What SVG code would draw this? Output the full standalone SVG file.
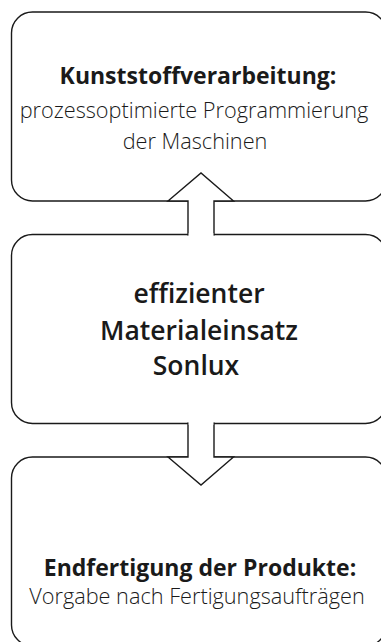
<svg xmlns="http://www.w3.org/2000/svg" width="381" height="642" viewBox="0 0 381 642">
<style>
.box{fill:#fff;stroke:#1a1a1a;stroke-width:1.4}
.arr{fill:#fff;stroke:#1a1a1a;stroke-width:1.4;stroke-linejoin:miter}
text{font-family:"Open Sans","Noto Sans",sans-serif;fill:#1a1a1a;text-anchor:middle}
.t{font-weight:700;font-size:23px}
.b{font-weight:300;font-size:21.7px}
.m{font-weight:600;font-size:26.5px}
</style>
<rect width="381" height="642" fill="#fff"/>
<g id="node-top">
<rect class="box" x="11.5" y="12" width="375" height="189" rx="21" ry="21"/>
<text class="t" x="198" y="84">Kunststoffverarbeitung:</text>
<text class="b" x="194" y="118">prozessoptimierte Programmierung</text>
<text class="b" x="195" y="149">der Maschinen</text>
</g>
<g id="node-middle">
<rect class="box" x="11.5" y="234.5" width="375" height="189" rx="21" ry="21"/>
<text class="m" x="199" y="303">effizienter</text>
<text class="m" x="199" y="340">Materialeinsatz</text>
<text class="m" x="196" y="375">Sonlux</text>
</g>
<g id="node-bottom">
<rect class="box" x="11.5" y="457" width="375" height="189" rx="21" ry="21"/>
<text class="t" x="200" y="576">Endfertigung der Produkte:</text>
<text class="b" x="197" y="604">Vorgabe nach Fertigungsaufträgen</text>
</g>
<g id="connectors">
<path class="arr" d="M188 235.5 V201 H168 L201 173 L233.5 201 H214 V235.5"/>
<rect x="188.7" y="233" width="24.6" height="4" fill="#fff"/>
<path class="arr" d="M188 422.5 V457 H168 L201 485 L233.5 457 H214 V422.5"/>
<rect x="188.7" y="421" width="24.6" height="4" fill="#fff"/>
</g>
</svg>
